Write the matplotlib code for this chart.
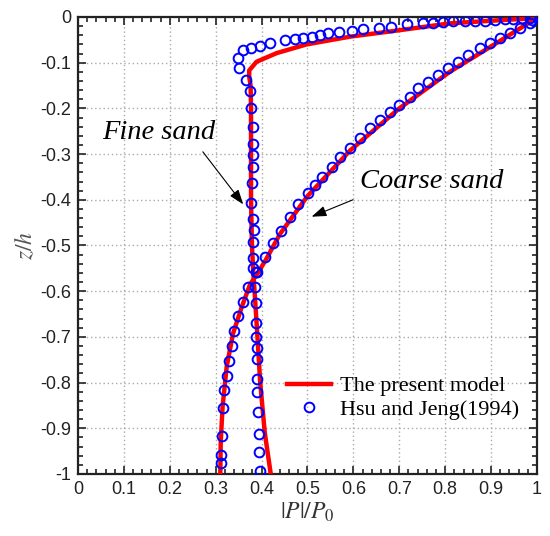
import matplotlib
matplotlib.use("Agg")
import matplotlib.pyplot as plt
from matplotlib.lines import Line2D
from matplotlib.ticker import MultipleLocator

# ---- data (x = |P|/P0, z = z/h) ----
fine_model_x = [1.0, 0.99, 0.92, 0.81, 0.70, 0.593, 0.498, 0.433, 0.389, 0.373, 0.373,
                0.376, 0.377, 0.377, 0.377, 0.379, 0.382, 0.386, 0.391, 0.397, 0.407, 0.42]
fine_model_z = [0.0, -0.003, -0.007, -0.014, -0.029, -0.043, -0.060, -0.079, -0.098, -0.117, -0.13,
                -0.15, -0.2, -0.3, -0.4, -0.5, -0.56, -0.62, -0.7, -0.80, -0.91, -1.0]

coarse_model_x = [1.0, 0.99, 0.92, 0.81, 0.70, 0.593, 0.50, 0.44, 0.41, 0.392, 0.375,
                  0.357, 0.338, 0.324, 0.315, 0.311, 0.31]
coarse_model_z = [0.0, -0.008, -0.052, -0.12, -0.2, -0.292, -0.392, -0.475, -0.53, -0.56, -0.585,
                  -0.634, -0.692, -0.765, -0.853, -0.93, -1.0]

fine_obs_x = [0.985, 0.967, 0.948, 0.93, 0.908, 0.887, 0.865, 0.843, 0.818, 0.796, 0.774,
              0.752, 0.716, 0.683, 0.656, 0.622, 0.596, 0.569, 0.545, 0.527, 0.509, 0.491,
              0.473, 0.451, 0.418, 0.397, 0.378, 0.36, 0.349, 0.351, 0.366, 0.375, 0.378,
              0.381, 0.381, 0.381, 0.381, 0.38, 0.378, 0.381, 0.383, 0.382, 0.381, 0.382,
              0.388, 0.386, 0.388, 0.388, 0.388, 0.389, 0.389, 0.391, 0.391, 0.393, 0.394,
              0.395, 0.397]
fine_obs_z = [-0.003, -0.003, -0.004, -0.005, -0.007, -0.008, -0.008, -0.009, -0.009, -0.012, -0.014,
              -0.014, -0.016, -0.021, -0.025, -0.027, -0.030, -0.032, -0.036, -0.039, -0.044, -0.047,
              -0.049, -0.05, -0.058, -0.063, -0.067, -0.072, -0.09, -0.112, -0.138, -0.163, -0.2,
              -0.241, -0.278, -0.302, -0.328, -0.364, -0.406, -0.443, -0.466, -0.493, -0.528, -0.55,
              -0.557, -0.59, -0.625, -0.67, -0.70, -0.725, -0.748, -0.792, -0.82, -0.864, -0.913,
              -0.952, -0.993]

coarse_obs_x = [0.99, 0.985, 0.963, 0.941, 0.919, 0.898, 0.876, 0.85, 0.828, 0.807, 0.785,
                0.763, 0.741, 0.723, 0.70, 0.68, 0.658, 0.636, 0.614, 0.593, 0.571, 0.553,
                0.531, 0.516, 0.502, 0.48, 0.462, 0.442, 0.424, 0.407, 0.391, 0.371, 0.359,
                0.349, 0.34, 0.335, 0.329, 0.324, 0.318, 0.315, 0.313, 0.312, 0.312]
coarse_obs_z = [-0.007, -0.013, -0.024, -0.035, -0.046, -0.057, -0.068, -0.083, -0.098, -0.112, -0.127,
                -0.142, -0.156, -0.175, -0.193, -0.207, -0.225, -0.243, -0.265, -0.287, -0.306, -0.328,
                -0.35, -0.368, -0.386, -0.41, -0.437, -0.468, -0.495, -0.526, -0.557, -0.59, -0.623,
                -0.655, -0.687, -0.72, -0.752, -0.786, -0.816, -0.855, -0.916, -0.958, -0.976]

legend_labels = ["The present model", "Hsu and Jeng(1994)"]

plt.rcParams['font.family'] = ['Liberation Sans', 'DejaVu Sans']
plt.rcParams['mathtext.fontset'] = 'stix'

fig = plt.figure(figsize=(5.5, 5.36), dpi=100)
ax = fig.add_axes([0.1418, 0.1157, 0.8345, 0.8526])

red = '#ff0000'
blue = '#0000ff'
ax.plot(fine_model_x, fine_model_z, color=red, lw=3.2, zorder=3, solid_capstyle='butt')
ax.plot(coarse_model_x, coarse_model_z, color=red, lw=3.2, zorder=3, solid_capstyle='butt')
mk = dict(linestyle='none', marker='o', markersize=7.0, markerfacecolor='none',
          markeredgecolor=blue, markeredgewidth=1.4, zorder=4)
ax.plot(fine_obs_x, fine_obs_z, **mk)
ax.plot(coarse_obs_x, coarse_obs_z, **mk)

ax.set_xlim(0, 1)
ax.set_ylim(-1, 0)
ax.xaxis.set_major_locator(MultipleLocator(0.1))
ax.yaxis.set_major_locator(MultipleLocator(0.1))
ax.xaxis.set_minor_locator(MultipleLocator(0.02))
ax.yaxis.set_minor_locator(MultipleLocator(0.02))
ax.set_xticklabels([f"{v:g}" for v in [round(t, 1) for t in ax.get_xticks()]])
ax.set_yticklabels([f"{v:g}" for v in [round(t, 1) for t in ax.get_yticks()]])
ax.tick_params(which='both', direction='in', top=True, right=True, width=1.2, color='#222222')
ax.tick_params(which='major', length=6, labelsize=13, pad=5, labelcolor='#222222')
ax.tick_params(which='minor', length=3.5)
ax.grid(True, which='major', linestyle=(0, (1, 2)), color='#aaaaaa', lw=1.0)
for s in ax.spines.values():
    s.set_linewidth(1.6)
    s.set_color('#222222')

ax.set_xlabel(r'$|P|/P_0$', fontsize=17, color='#333333', labelpad=2)
ax.set_ylabel(r'$z/h$', fontsize=17, color='#555555', labelpad=2)

tfont = dict(family='Liberation Serif', style='italic', fontsize=20.5, color='black')
ax.text(0.175, -0.252, 'Fine sand', ha='center', va='center', **tfont)
ax.text(0.77, -0.36, 'Coarse sand', ha='center', va='center', **tfont)
arr = dict(arrowstyle='-|>,head_length=0.9,head_width=0.32', color='black', lw=0.8,
           shrinkA=0, shrinkB=0)
ax.annotate('', xy=(0.36, -0.41), xytext=(0.272, -0.295), arrowprops=arr)
ax.annotate('', xy=(0.509, -0.437), xytext=(0.599, -0.40), arrowprops=arr)

handles = [Line2D([], [], color=red, lw=3.2),
           Line2D([], [], linestyle='none', marker='o', markersize=7.0, markerfacecolor='none',
                  markeredgecolor=blue, markeredgewidth=1.4)]
leg = ax.legend(handles, legend_labels, loc='upper left', bbox_to_anchor=(0.455, 0.215),
                frameon=False, prop=dict(family='Liberation Serif', size=16),
                handlelength=2.0, handletextpad=0.4, labelspacing=0.15, borderpad=0,
                borderaxespad=0)

fig.savefig('out.png', dpi=100)
